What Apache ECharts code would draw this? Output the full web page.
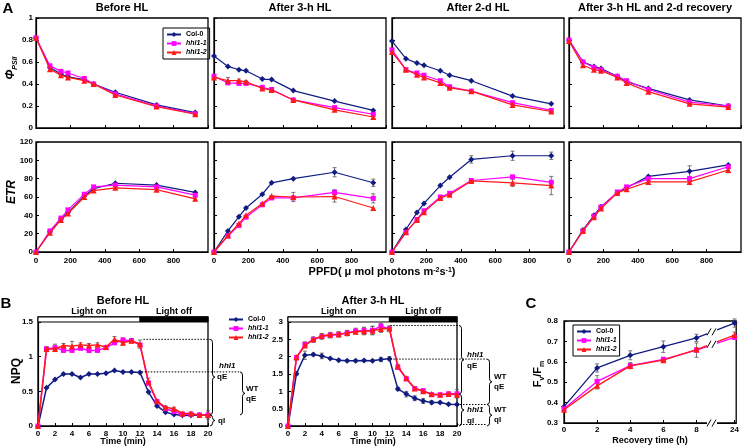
<!DOCTYPE html>
<html><head><meta charset="utf-8">
<script src="https://cdn.jsdelivr.net/npm/echarts@6/dist/echarts.min.js"></script>
<style>html,body{margin:0;padding:0;background:#fff}#c{width:742px;height:448px}</style>
</head><body><div id="c"></div><script>
// ---------------- DATA ----------------
const lineNames = ['Col-0', 'hhl1-1', 'hhl1-2'];
const ppfd = [0, 81, 145, 186, 281, 335, 461, 701, 926];
const ppfdTicks = [0, 200, 400, 600, 800];

const phiBeforeCol0  = [0.82, 0.55, 0.49, 0.465, 0.44, 0.40, 0.325, 0.21, 0.14];
const phiBeforeHhl11 = [0.82, 0.565, 0.515, 0.50, 0.45, 0.40, 0.31, 0.20, 0.13];
const phiBeforeHhl12 = [0.82, 0.535, 0.48, 0.46, 0.43, 0.40, 0.30, 0.195, 0.125];
const phi3hCol0  = [0.655, 0.56, 0.53, 0.52, 0.445, 0.44, 0.34, 0.245, 0.16];
const phi3hHhl11 = [0.47, 0.41, 0.405, 0.405, 0.37, 0.35, 0.255, 0.185, 0.125];
const phi3hHhl12 = [0.46, 0.43, 0.43, 0.42, 0.36, 0.345, 0.255, 0.165, 0.10];
const phi3hErrHhl12 = [0, 0.03, 0.015, 0.01, 0, 0, 0, 0, 0];
const phi2dCol0  = [0.79, 0.63, 0.59, 0.57, 0.52, 0.48, 0.43, 0.29, 0.22];
const phi2dHhl11 = [0.71, 0.53, 0.50, 0.48, 0.43, 0.375, 0.335, 0.23, 0.16];
const phi2dHhl12 = [0.69, 0.53, 0.485, 0.46, 0.41, 0.365, 0.335, 0.21, 0.15];
const phiRecCol0  = [0.80, 0.60, 0.56, 0.54, 0.47, 0.42, 0.36, 0.255, 0.20];
const phiRecHhl11 = [0.80, 0.60, 0.55, 0.53, 0.47, 0.43, 0.35, 0.235, 0.20];
const phiRecHhl12 = [0.79, 0.57, 0.53, 0.52, 0.46, 0.41, 0.33, 0.22, 0.19];

const etrBeforeCol0  = [0, 22, 36, 43, 61, 69, 75, 73, 65];
const etrBeforeHhl11 = [0, 23, 37, 46, 63, 71, 73, 71, 62];
const etrBeforeHhl12 = [0, 21, 35, 42, 60, 67, 70, 68, 58];
const etr3hCol0  = [0, 23, 38.5, 48, 63, 75.5, 80, 87, 75.5];
const etr3hHhl11 = [0, 17.5, 29, 38, 51.5, 59, 59, 65, 58.5];
const etr3hHhl12 = [0, 18, 31, 40, 53, 61, 60, 60.5, 48];
const etr3hErrCol0  = [0, 0, 0, 0, 0, 0, 0, 5, 4];
const etr3hErrHhl11 = [0, 0, 0, 0, 0, 0, 0, 3, 5];
const etr3hErrHhl12 = [0, 0, 0, 0, 0, 0, 5, 6, 0];
const etr2dCol0  = [0, 24.5, 43, 53, 72.5, 81.5, 101, 105, 105];
const etr2dHhl11 = [0, 21.5, 35.5, 45, 60, 64, 78, 82, 76];
const etr2dHhl12 = [0, 21.5, 35, 43.5, 59, 62.5, 77.5, 75.5, 72.5];
const etr2dErrCol0  = [0, 0, 0, 0, 0, 0, 4, 5, 4];
const etr2dErrHhl12 = [0, 0, 0, 0, 0, 0, 0, 4, 10];
const etrRecCol0  = [0, 24, 40, 49.5, 64.5, 70, 82.5, 88, 95];
const etrRecHhl11 = [0, 23, 39, 49, 65.5, 71, 80, 80, 93];
const etrRecHhl12 = [0, 23, 38, 47.5, 64.5, 68.5, 76.5, 76.5, 89.5];
const etrRecErrCol0  = [0, 0, 0, 0, 0, 0, 0, 6, 0];
const etrRecErrHhl12 = [0, 0, 0, 0, 0, 0, 0, 0, 3];

const npqTime = [0,1,2,3,4,5,6,7,8,9,10,11,12,13,14,15,16,17,18,19,20];
const npqBeforeCol0  = [0,0.55,0.67,0.75,0.75,0.70,0.75,0.75,0.76,0.80,0.78,0.78,0.77,0.49,0.29,0.20,0.165,0.155,0.155,0.155,0.16];
const npqBeforeHhl11 = [0,1.11,1.13,1.09,1.09,1.12,1.09,1.09,1.13,1.20,1.24,1.23,1.17,0.62,0.35,0.25,0.21,0.17,0.17,0.16,0.16];
const npqBeforeHhl12 = [0,1.11,1.11,1.16,1.15,1.17,1.16,1.17,1.14,1.25,1.20,1.23,1.18,0.64,0.36,0.27,0.25,0.18,0.18,0.16,0.16];
const npqBeforeErrHhl11 = [0,0.03,0.05,0,0,0,0.03,0,0,0,0.03,0,0,0,0,0,0,0,0,0,0];
const npqBeforeErrHhl12 = [0,0.03,0.03,0.03,0.07,0.03,0.03,0.03,0.02,0.04,0.03,0.03,0.06,0.05,0.02,0.02,0.02,0.02,0.02,0.02,0.06];
const npq3hCol0  = [0,1.51,2.04,2.06,2.02,1.95,1.90,1.88,1.88,1.89,1.88,1.92,1.94,1.07,0.92,0.80,0.72,0.68,0.68,0.63,0.62];
const npq3hHhl11 = [0,1.97,2.35,2.49,2.58,2.62,2.64,2.68,2.74,2.75,2.76,2.88,2.80,1.69,1.36,1.08,1.02,0.90,0.90,0.93,0.93];
const npq3hHhl12 = [0,1.98,2.32,2.50,2.60,2.63,2.65,2.68,2.72,2.73,2.75,2.80,2.82,1.72,1.38,1.08,1.00,0.92,0.90,0.92,0.90];
const npq3hErrCol0  = [0,0.05,0.12,0.04,0.08,0.03,0.03,0.03,0.03,0.03,0.03,0.06,0.06,0.05,0.08,0.07,0.07,0.05,0.03,0.03,0.03];
const npq3hErrHhl11 = [0,0.06,0.08,0.08,0.08,0.08,0.08,0.08,0.08,0.10,0.12,0.08,0.08,0.06,0.04,0.03,0.03,0.04,0.04,0.04,0.12];
const npq3hErrHhl12 = [0,0.06,0.06,0.06,0.06,0.06,0.06,0.06,0.06,0.10,0.12,0.10,0.06,0.06,0.04,0.03,0.03,0.04,0.04,0.04,0.06];
// bracket levels
const npqBeforeLevels = { hhl1Max: 1.25, wtMax: 0.78, final: 0.16 };
const npq3hLevels = { hhl1Max: 2.9, wtMax: 1.93, hhl1Final: 0.92, wtFinal: 0.62 };
const lightPeriods = [{ name: 'Light on', from: 0, to: 12 }, { name: 'Light off', from: 12, to: 20 }];

const recoveryHours = [0, 2, 4, 6, 8, 24];
const fvfmCol0  = [0.38, 0.57, 0.632, 0.674, 0.717, 0.79];
const fvfmHhl11 = [0.37, 0.504, 0.581, 0.612, 0.657, 0.72];
const fvfmHhl12 = [0.365, 0.482, 0.58, 0.608, 0.66, 0.731];
const fvfmErrCol0  = [0, 0.02, 0.022, 0.028, 0.018, 0.02];
const fvfmErrHhl11 = [0, 0.028, 0.015, 0.01, 0.035, 0.01];
const fvfmErrHhl12 = [0, 0.015, 0.01, 0.01, 0.01, 0.015];

// ---------------- STYLE ----------------
const FONT = 'Liberation Sans, Arial, sans-serif';
const colors = ['#101c82', '#ff00ff', '#ff1a1a'];
const symbols = ['diamond', 'rect', 'triangle'];
const symSizes = [6, 5, 6];

const grids = [], xAxes = [], yAxes = [], series = [];
function lbl(show, margin) {
  return { show, fontSize: 8, fontWeight: 'bold', color: '#000', fontFamily: FONT, margin };
}
function valAxis(o) {
  return Object.assign({
    type: 'value', splitLine: { show: false },
    axisLine: { show: true, onZero: false, lineStyle: { color: '#000', width: 1.2 } },
    axisTick: { show: true, inside: true, length: 3, lineStyle: { color: '#000', width: 1 } }
  }, o);
}
function addGrid(g, xa, ya) {
  grids.push(Object.assign({ show: true, borderColor: '#000', borderWidth: 1.3, containLabel: false }, g));
  const i = grids.length - 1;
  xAxes.push(Object.assign({ gridIndex: i }, xa));
  yAxes.push(Object.assign({ gridIndex: i }, ya));
  return i;
}
function errSeries(gi, xs, ys, errs) {
  const data = [];
  xs.forEach((x, j) => { if (errs[j] > 0) data.push([x, ys[j] - errs[j], ys[j] + errs[j]]); });
  return {
    type: 'custom', xAxisIndex: gi, yAxisIndex: gi, data, silent: true, z: 1,
    encode: { x: 0, y: [1, 2] },
    renderItem: (p, api) => {
      const lo = api.coord([api.value(0), api.value(1)]);
      const hi = api.coord([api.value(0), api.value(2)]);
      const w = 2, st = { stroke: '#555', lineWidth: 0.8 };
      return { type: 'group', children: [
        { type: 'line', shape: { x1: lo[0], y1: lo[1], x2: hi[0], y2: hi[1] }, style: st },
        { type: 'line', shape: { x1: lo[0] - w, y1: lo[1], x2: lo[0] + w, y2: lo[1] }, style: st },
        { type: 'line', shape: { x1: hi[0] - w, y1: hi[1], x2: hi[0] + w, y2: hi[1] }, style: st }
      ] };
    }
  };
}
function addLines(gi, xs, ysList, errList, extra, width) {
  ysList.forEach((ys, k) => {
    if (errList && errList[k]) series.push(errSeries(gi, xs, ys, errList[k]));
    series.push(Object.assign({
      type: 'line', name: lineNames[k], xAxisIndex: gi, yAxisIndex: gi,
      data: xs.map((x, j) => [x, ys[j]]),
      symbol: symbols[k], symbolSize: symSizes[k], showAllSymbol: true,
      lineStyle: { color: colors[k], width: width || 1.2 }, itemStyle: { color: colors[k] },
      z: 3 + k
    }, k === 0 && extra ? extra : {}));
  });
}

// ---------------- PANEL A ----------------
const colLefts = [36, 214, 392, 569];
const phiSets = [
  [[phiBeforeCol0, phiBeforeHhl11, phiBeforeHhl12], null],
  [[phi3hCol0, phi3hHhl11, phi3hHhl12], [null, null, phi3hErrHhl12]],
  [[phi2dCol0, phi2dHhl11, phi2dHhl12], null],
  [[phiRecCol0, phiRecHhl11, phiRecHhl12], null]
];
const etrSets = [
  [[etrBeforeCol0, etrBeforeHhl11, etrBeforeHhl12], null],
  [[etr3hCol0, etr3hHhl11, etr3hHhl12], [etr3hErrCol0, etr3hErrHhl11, etr3hErrHhl12]],
  [[etr2dCol0, etr2dHhl11, etr2dHhl12], [etr2dErrCol0, null, etr2dErrHhl12]],
  [[etrRecCol0, etrRecHhl11, etrRecHhl12], [etrRecErrCol0, null, etrRecErrHhl12]]
];
for (let c = 0; c < 4; c++) {
  const gi = addGrid({ left: colLefts[c], top: 18, width: 172, height: 110 },
    valAxis({ min: 0, max: 1000, interval: 200, axisLabel: lbl(false) }),
    valAxis({ min: 0, max: 1, interval: 0.2, axisLabel: lbl(c === 0, 3) }));
  addLines(gi, ppfd, phiSets[c][0], phiSets[c][1]);
}
for (let c = 0; c < 4; c++) {
  const gi = addGrid({ left: colLefts[c], top: 142, width: 172, height: 110 },
    valAxis({ min: 0, max: 1000, interval: 200, axisLabel: Object.assign(lbl(true, 5), { showMaxLabel: false }) }),
    valAxis({ min: 0, max: 120, interval: 20, axisLabel: lbl(c === 0, 3) }));
  addLines(gi, ppfd, etrSets[c][0], etrSets[c][1]);
}

// ---------------- PANEL B ----------------
function lightArea(yLow, yHigh) {
  return {
    silent: true,
    label: { show: true, position: 'top', distance: 0, color: '#000', fontSize: 9, fontWeight: 'bold', fontFamily: FONT },
    data: lightPeriods.map((p, i) => [
      { name: p.name, xAxis: p.from, yAxis: yLow,
        itemStyle: { color: i === 0 ? '#fff' : '#000', borderColor: '#000', borderWidth: 1 } },
      { xAxis: p.to, yAxis: yHigh }
    ])
  };
}
const npqLeftMax = 1.572, npqRightMax = 3.144;
const gB1 = addGrid({ left: 38, top: 317, width: 170, height: 109 },
  valAxis({ min: 0, max: 20, interval: 2, axisLabel: lbl(true, 4) }),
  valAxis({ min: 0, max: npqLeftMax, interval: 0.5, axisLabel: Object.assign(lbl(true, 5), { showMaxLabel: false }) }));
addLines(gB1, npqTime, [npqBeforeCol0, npqBeforeHhl11, npqBeforeHhl12], [null, npqBeforeErrHhl11, npqBeforeErrHhl12],
  { markArea: lightArea(1.5, npqLeftMax) }, 1.5);
const gB2 = addGrid({ left: 288, top: 317, width: 169, height: 109 },
  valAxis({ min: 0, max: 20, interval: 2, axisLabel: lbl(true, 4) }),
  valAxis({ min: 0, max: npqRightMax, interval: 0.5, axisLabel: Object.assign(lbl(true, 5), { showMaxLabel: false }) }));
addLines(gB2, npqTime, [npq3hCol0, npq3hHhl11, npq3hHhl12], [npq3hErrCol0, npq3hErrHhl11, npq3hErrHhl12],
  { markArea: lightArea(3, npqRightMax) }, 1.5);

// ---------------- PANEL C (broken time axis 8 -> 24 h) ----------------
const BREAK_AT = 8, BREAK_SCALE = 2.3 / 16;
const hourToAxis = h => h <= BREAK_AT ? h : BREAK_AT + (h - BREAK_AT) * BREAK_SCALE;
const axisToHour = v => v <= BREAK_AT + 1e-6 ? v : BREAK_AT + (v - BREAK_AT) / BREAK_SCALE;
const recTickPos = recoveryHours.map(hourToAxis);
const gC = addGrid({ left: 564, top: 321, width: 176, height: 102 },
  valAxis({ min: 0, max: 10.4,
    axisLabel: Object.assign(lbl(true, 3), { customValues: recTickPos, formatter: v => String(Math.round(axisToHour(v))) }),
    axisTick: { show: true, inside: true, length: 3, customValues: recTickPos, lineStyle: { color: '#000' } } }),
  valAxis({ min: 0.3, max: 0.8, interval: 0.1, axisLabel: lbl(true, 6) }));
addLines(gC, recoveryHours.map(hourToAxis), [fvfmCol0, fvfmHhl11, fvfmHhl12], [fvfmErrCol0, fvfmErrHhl11, fvfmErrHhl12], null, 1.3);

// ---------------- LEGENDS ----------------
function legendAt(left, top, border) {
  return {
    data: lineNames, left, top, orient: 'vertical', selectedMode: false,
    itemWidth: 14, itemHeight: 6, itemGap: 2,
    padding: border ? [3, 3, 3, 3] : 0,
    borderColor: border ? '#000' : 'transparent', borderWidth: border ? 1 : 0,
    formatter: n => n === 'Col-0' ? n : '{i|' + n + '}',
    textStyle: { fontSize: 7, fontWeight: 'bold', color: '#000', fontFamily: FONT,
      rich: { i: { fontSize: 7, fontWeight: 'bold', fontStyle: 'italic', color: '#000', fontFamily: FONT } } }
  };
}

const option = {
  animation: false, backgroundColor: '#fff', textStyle: { fontFamily: FONT },
  grid: grids, xAxis: xAxes, yAxis: yAxes, series,
  legend: [legendAt(163, 28, true), legendAt(228, 316, false), legendAt(573, 325, true)]
};
const chart = echarts.init(document.getElementById('c'));
chart.setOption(option);

// ---------------- TEXT & ANNOTATIONS ----------------
function txt(text, x, y, size, opts) {
  opts = opts || {};
  const style = Object.assign({ text, fill: '#000', fontSize: size, fontWeight: 'bold', fontFamily: FONT,
    align: opts.align || 'center', verticalAlign: 'middle', textAlign: opts.align || 'center', textVerticalAlign: 'middle' }, opts.style || {});
  return { type: 'text', x, y, rotation: opts.rot || 0, z: 100, silent: true, style };
}
const px = (gi, v) => chart.convertToPixel({ xAxisIndex: gi }, v);
const py = (gi, v) => chart.convertToPixel({ yAxisIndex: gi }, v);
function dotted(x1, x2, y) {
  return { type: 'line', z: 90, silent: true, shape: { x1, y1: y, x2, y2: y }, style: { stroke: '#000', lineWidth: 1, lineDash: [1.5, 1.5] } };
}
function bracket(x, y1, y2) {
  const w = 2.5, ym = (y1 + y2) / 2, r = Math.min(3, (y2 - y1) / 4);
  return { type: 'polyline', z: 90, silent: true, shape: { points: [
    [x, y1], [x + w * 0.75, y1 + r * 0.3], [x + w, y1 + r], [x + w, ym - r], [x + w * 1.25, ym - r * 0.3], [x + 2 * w, ym],
    [x + w * 1.25, ym + r * 0.3], [x + w, ym + r], [x + w, y2 - r], [x + w * 0.75, y2 - r * 0.3], [x, y2]] },
    style: { stroke: '#000', fill: null, lineWidth: 1 } };
}
const italic = { fontStyle: 'italic' };
const g = [];
// titles
g.push(txt('A', 8, 9, 15), txt('B', 6, 304, 15), txt('C', 531, 304, 15));
['Before HL', 'After 3-h HL', 'After 2-d HL', 'After 3-h HL and 2-d recovery']
  .forEach((t, c) => g.push(txt(t, colLefts[c] + 86, 8, 11)));
g.push(txt('Before HL', 123, 301, 11), txt('After 3-h HL', 373, 301, 11));
g.push(txt('{a|Φ}{b|PSII}', 12, 68, 12, { rot: Math.PI / 2, style: { fontStyle: 'italic', rich: {
  a: { fontSize: 12, fontStyle: 'italic', fontWeight: 'bold', fontFamily: FONT, verticalAlign: 'top' },
  b: { fontSize: 7, fontStyle: 'italic', fontWeight: 'bold', fontFamily: FONT, verticalAlign: 'bottom', lineHeight: 14 } } } }));
g.push(txt('ETR', 12, 192, 12, { rot: Math.PI / 2, style: italic }));
g.push(txt('{a|PPFD( μ mol photons m}{p|-2}{a|s}{p|-1}{a|)}', 382, 272, 11, { style: { rich: {
  a: { fontSize: 11, fontWeight: 'bold', fontFamily: FONT },
  p: { fontSize: 7, fontWeight: 'bold', fontFamily: FONT, verticalAlign: 'top' } } } }));
g.push(txt('NPQ', 17, 371, 12, { rot: Math.PI / 2 }));
g.push(txt('Time (min)', 123, 442, 9), txt('Time (min)', 373, 442, 9));
g.push(txt('Recovery time (h)', 650, 441, 9));
g.push(txt('{a|F}{s|v}{a|/F}{s|m}', 539, 374, 11, { rot: Math.PI / 2, style: { rich: {
  a: { fontSize: 11, fontWeight: 'bold', fontFamily: FONT, verticalAlign: 'top' },
  s: { fontSize: 7, fontWeight: 'bold', fontFamily: FONT, verticalAlign: 'bottom', lineHeight: 13 } } } }));

// Panel B left brackets
{
  const L = npqBeforeLevels;
  const yA = py(gB1, L.hhl1Max), yB = py(gB1, L.wtMax), yC = py(gB1, L.final), y0 = py(gB1, 0);
  g.push(dotted(px(gB1, 12.4), 210, yA), dotted(px(gB1, 12.2), 240, yB));
  g.push(bracket(210, yA, yC), bracket(210, yC, y0), bracket(240, yB, yC));
  const t1 = (yA + yC) / 2, t2 = (yC + y0) / 2, t3 = (yB + yC) / 2;
  g.push(txt('hhl1', 219, t1 - 11, 8, { align: 'left', style: italic }), txt('qE', 217, t1, 8, { align: 'left' }));
  g.push(txt('qI', 218, t2, 8, { align: 'left' }));
  g.push(txt('WT', 246, t3 - 5, 8, { align: 'left' }), txt('qE', 246, t3 + 5, 8, { align: 'left' }));
}
// Panel B right brackets
{
  const L = npq3hLevels;
  const yA = py(gB2, L.hhl1Max), yB = py(gB2, L.wtMax), yC = py(gB2, L.hhl1Final), yD = py(gB2, L.wtFinal), y0 = py(gB2, 0);
  g.push(dotted(px(gB2, 12.1), 459, yA), dotted(px(gB2, 12.1), 487, yB), dotted(457, 487, yD), dotted(457, 487, y0 - 1.5));
  g.push(bracket(459, yA, yC), bracket(459, yC, y0), bracket(487, yB, yD), bracket(487, yD, y0));
  const t1 = (yA + yC) / 2, t2 = (yC + y0) / 2, t3 = (yB + yD) / 2, t4 = (yD + y0) / 2;
  g.push(txt('hhl1', 467, t1 - 5, 8, { align: 'left', style: italic }), txt('qE', 467, t1 + 6, 8, { align: 'left' }));
  g.push(txt('hhl1', 467, t2, 8, { align: 'left', style: italic }), txt('qI', 467, t2 + 11, 8, { align: 'left' }));
  g.push(txt('WT', 494, t3 - 5, 8, { align: 'left' }), txt('qE', 494, t3 + 5, 8, { align: 'left' }));
  g.push(txt('WT', 494, t4 - 5, 8, { align: 'left' }), txt('qI', 494, t4 + 5, 8, { align: 'left' }));
}
// Panel C break marks
function breakMark(cx, cy) {
  return [
    { type: 'rect', z: 95, silent: true, shape: { x: cx - 5, y: cy - 3, width: 10, height: 6 }, style: { fill: '#fff' } },
    { type: 'line', z: 96, silent: true, shape: { x1: cx - 5, y1: cy + 3.5, x2: cx - 1, y2: cy - 3.5 }, style: { stroke: '#000', lineWidth: 1 } },
    { type: 'line', z: 96, silent: true, shape: { x1: cx + 0, y1: cy + 3.5, x2: cx + 4, y2: cy - 3.5 }, style: { stroke: '#000', lineWidth: 1 } }
  ];
}
{
  const x8 = px(gC, hourToAxis(8)), x24 = px(gC, hourToAxis(24));
  const bx = 712, f = (bx - x8) / (x24 - x8);
  const lerp = (a, b) => a + (b - a) * f;
  g.push(...breakMark(bx, py(gC, 0.3)));
  g.push(...breakMark(bx, lerp(py(gC, fvfmCol0[4]), py(gC, fvfmCol0[5]))));
  g.push(...breakMark(bx, lerp(py(gC, (fvfmHhl11[4] + fvfmHhl12[4]) / 2), py(gC, (fvfmHhl11[5] + fvfmHhl12[5]) / 2))));
}
chart.setOption({ graphic: { elements: g } });
</script></body></html>
